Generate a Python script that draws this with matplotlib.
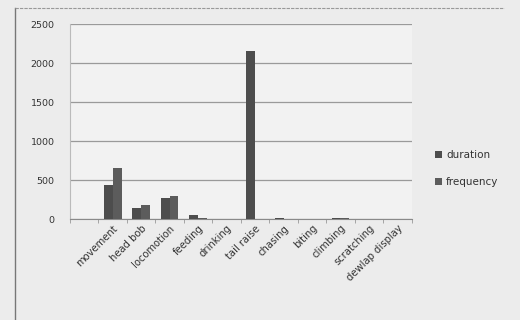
import numpy as np
import matplotlib
matplotlib.use("Agg")
import matplotlib.pyplot as plt
from matplotlib.lines import Line2D
from matplotlib.patches import Patch

# behaviours (first slot is left blank on the axis)
behaviours = ["", "movement", "head bob", "locomotion", "feeding", "drinking",
              "tail raise", "chasing", "biting", "climbing", "scratching",
              "dewlap display"]
duration = [0, 440, 140, 270, 45, 5, 2160, 8, 4, 15, 6, 2]
frequency = [0, 660, 185, 290, 15, 5, 0, 3, 2, 12, 5, 1]
yticks = [0, 500, 1000, 1500, 2000, 2500]

paper = "#ececec"
fig = plt.figure(figsize=(5.2, 3.2), dpi=100, facecolor=paper)
ax = fig.add_axes([0.1346, 0.3156, 0.657, 0.6094], facecolor="#f2f2f2")

x = np.arange(len(behaviours))
w = 0.31
ax.bar(x - w / 2, duration, w, color="#4d4d4d", label="duration", zorder=3)
ax.bar(x + w / 2, frequency, w, color="#5c5c5c", label="frequency", zorder=3)

ax.set_xlim(-0.5, len(behaviours) - 0.5)
ax.set_ylim(0, 2500)
ax.set_yticks(yticks)
ax.set_yticklabels([str(v) for v in yticks], fontsize=6.8, color="#333333")
ax.yaxis.grid(True, color="#9a9a9a", lw=0.9, zorder=0)
ax.tick_params(axis="y", length=0, pad=11)

# category ticks sit between the categories
ax.set_xticks(x)
ax.set_xticklabels(behaviours, rotation=45, ha="right",
                   rotation_mode="anchor", fontsize=7.2, color="#333333")
ax.tick_params(axis="x", length=0, pad=3)
ax.set_xticks(np.arange(len(behaviours) + 1) - 0.5, minor=True)
ax.tick_params(axis="x", which="minor", length=3, color="#999999", direction="out")

for side in ["top", "right"]:
    ax.spines[side].set_visible(False)
ax.spines["left"].set_color("#bbbbbb")
ax.spines["bottom"].set_color("#8a8a8a")
ax.spines["bottom"].set_linestyle((0, (2, 1)))

handles = [Patch(facecolor="#4d4d4d", label="duration"),
           Patch(facecolor="#5c5c5c", label="frequency")]
fig.legend(handles=handles, loc="upper left", bbox_to_anchor=(0.818, 0.56),
           frameon=False, fontsize=7.5, handlelength=0.7, handleheight=0.7,
           handletextpad=0.4, labelspacing=1.6, labelcolor="#333333")

# outer chart frame
fig.add_artist(Line2D([0.029, 0.029], [0.0, 0.975], color="#777777", lw=1.0))
fig.add_artist(Line2D([0.029, 0.97], [0.975, 0.975], color="#999999", lw=0.8,
                      ls=(0, (3, 1))))

fig.savefig("out.png", dpi=100, facecolor=paper)
